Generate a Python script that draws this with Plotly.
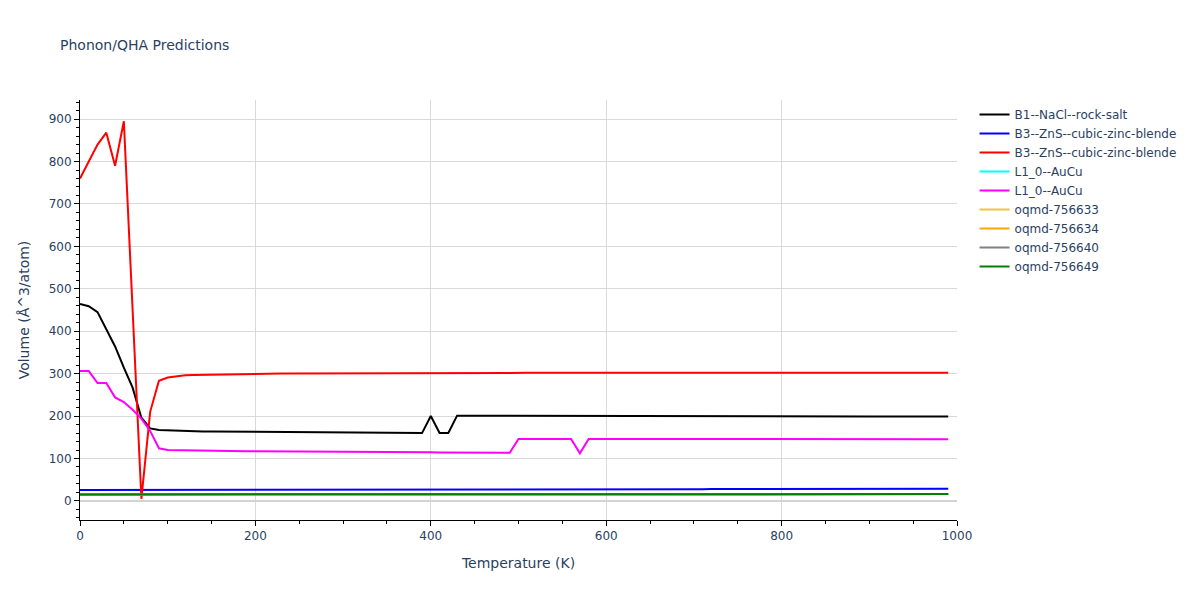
import plotly.graph_objects as go

temperature = list(range(0, 1000, 10))

b1_nacl = [464, 459, 445, 405, 364, 314, 267, 196, 171, 167,
           166, 165, 164.5, 164, 163.8, 163.6, 163.4, 163.2, 163, 162.8,
           162.6, 162.4, 162.2, 162, 161.8, 161.6, 161.4, 161.2, 161, 160.8,
           160.7, 160.6, 160.5, 160.4, 160.3, 160.2, 160.1, 160, 159.9, 159.8,
           200, 160, 160, 201, 200.9, 200.9, 200.8, 200.8, 200.7, 200.7,
           200.6, 200.6, 200.5, 200.5, 200.4, 200.4, 200.3, 200.3, 200.2, 200.2,
           200.1, 200.1, 200, 200, 200, 199.9, 199.9, 199.9, 199.8, 199.8,
           199.8, 199.7, 199.7, 199.7, 199.6, 199.6, 199.6, 199.5, 199.5, 199.5,
           199.4, 199.4, 199.4, 199.3, 199.3, 199.3, 199.3, 199.2, 199.2, 199.2,
           199.2, 199.1, 199.1, 199.1, 199.1, 199, 199, 199, 199, 199]

b3_zns_a = [26.0, 26.0, 26.0, 26.0, 26.1, 26.1, 26.1, 26.1, 26.2, 26.2,
            26.2, 26.2, 26.3, 26.3, 26.3, 26.3, 26.4, 26.4, 26.4, 26.4,
            26.5, 26.5, 26.5, 26.5, 26.6, 26.6, 26.6, 26.6, 26.7, 26.7,
            26.7, 26.7, 26.8, 26.8, 26.8, 26.8, 26.9, 26.9, 26.9, 26.9,
            27.0, 27.0, 27.0, 27.0, 27.1, 27.1, 27.1, 27.1, 27.2, 27.2,
            27.2, 27.2, 27.3, 27.3, 27.3, 27.3, 27.4, 27.4, 27.4, 27.4,
            27.5, 27.5, 27.5, 27.5, 27.6, 27.6, 27.6, 27.6, 27.7, 27.7,
            27.7, 27.7, 27.8, 27.8, 27.8, 27.8, 27.9, 27.9, 27.9, 27.9,
            28.0, 28.0, 28.0, 28.0, 28.1, 28.1, 28.1, 28.1, 28.2, 28.2,
            28.2, 28.2, 28.3, 28.3, 28.3, 28.3, 28.4, 28.4, 28.4, 28.4]

b3_zns_b = [760, 800, 840, 868, 790, 895, 450, 5, 210, 283,
            291, 294, 296, 297, 297.5, 298, 298.5, 299, 299.3, 299.6,
            300, 300.1, 300.2, 300.3, 300.4, 300.5, 300.6, 300.7, 300.8, 300.9,
            301, 301, 301.1, 301.1, 301.2, 301.2, 301.3, 301.3, 301.4, 301.4,
            301.5, 301.5, 301.5, 301.6, 301.6, 301.6, 301.7, 301.7, 301.7, 301.8,
            301.8, 301.8, 301.8, 301.9, 301.9, 301.9, 301.9, 302, 302, 302,
            302, 302, 302, 302, 302, 302, 302, 302, 302, 302,
            302.1, 302.1, 302.1, 302.1, 302.1, 302.1, 302.1, 302.1, 302.1, 302.1,
            302.2, 302.2, 302.2, 302.2, 302.2, 302.2, 302.2, 302.2, 302.2, 302.2,
            302.3, 302.3, 302.3, 302.3, 302.3, 302.3, 302.3, 302.3, 302.3, 302.3]

l10_aucu_b = [306, 306, 278, 278, 244, 233, 215, 194, 165, 124,
              120, 119.5, 119, 118.5, 118.2, 118, 117.8, 117.6, 117.4, 117.2,
              117, 116.8, 116.6, 116.4, 116.2, 116, 115.9, 115.8, 115.7, 115.6,
              115.5, 115.4, 115.3, 115.2, 115.1, 115, 114.9, 114.8, 114.7, 114.6,
              114.5, 114.4, 114.3, 114.2, 114.1, 114, 113.9, 113.8, 113.7, 113.6,
              146, 146, 146, 146, 146, 146, 146, 112, 146, 146,
              146, 146, 146, 146, 146, 145.9, 145.9, 145.9, 145.9, 145.9,
              145.8, 145.8, 145.8, 145.8, 145.8, 145.7, 145.7, 145.7, 145.7, 145.7,
              145.6, 145.6, 145.6, 145.6, 145.6, 145.5, 145.5, 145.5, 145.5, 145.5,
              145.4, 145.4, 145.4, 145.4, 145.4, 145.3, 145.3, 145.3, 145.3, 145.3]

oqmd_base = [15.3, 15.3, 15.3, 15.3, 15.3, 15.3, 15.3, 15.3, 15.4, 15.4,
             15.4, 15.4, 15.4, 15.4, 15.4, 15.4, 15.4, 15.4, 15.5, 15.5,
             15.5, 15.5, 15.5, 15.5, 15.5, 15.5, 15.5, 15.5, 15.5, 15.5,
             15.6, 15.6, 15.6, 15.6, 15.6, 15.6, 15.6, 15.6, 15.6, 15.6,
             15.6, 15.6, 15.6, 15.6, 15.7, 15.7, 15.7, 15.7, 15.7, 15.7,
             15.7, 15.7, 15.7, 15.7, 15.7, 15.7, 15.8, 15.8, 15.8, 15.8,
             15.8, 15.8, 15.8, 15.8, 15.8, 15.8, 15.8, 15.8, 15.8, 15.9,
             15.9, 15.9, 15.9, 15.9, 15.9, 15.9, 15.9, 15.9, 15.9, 15.9,
             15.9, 16.0, 16.0, 16.0, 16.0, 16.0, 16.0, 16.0, 16.0, 16.0,
             16.0, 16.0, 16.0, 16.0, 16.1, 16.1, 16.1, 16.1, 16.1, 16.1]

l10_aucu_a = oqmd_base
oqmd_756633 = oqmd_base
oqmd_756634 = oqmd_base
oqmd_756640 = oqmd_base
oqmd_756649 = oqmd_base

series = [
    ("B1--NaCl--rock-salt", b1_nacl, "black"),
    ("B3--ZnS--cubic-zinc-blende", b3_zns_a, "blue"),
    ("B3--ZnS--cubic-zinc-blende", b3_zns_b, "red"),
    ("L1_0--AuCu", l10_aucu_a, "cyan"),
    ("L1_0--AuCu", l10_aucu_b, "magenta"),
    ("oqmd-756633", oqmd_756633, "#f0c33c"),
    ("oqmd-756634", oqmd_756634, "orange"),
    ("oqmd-756640", oqmd_756640, "gray"),
    ("oqmd-756649", oqmd_756649, "green"),
]

fig = go.Figure()
for name, vals, color in series:
    fig.add_trace(go.Scatter(x=temperature, y=vals, mode="lines", name=name,
                             line=dict(color=color, width=2)))

axis_common = dict(showline=True, linecolor="black", linewidth=1,
                   ticks="outside", tickcolor="black", ticklen=5,
                   showgrid=True, gridcolor="#d9d9d9", zeroline=True,
                   zerolinecolor="#d3d3d3", zerolinewidth=2)

fig.update_layout(
    template="plotly_white",
    width=1200, height=600,
    margin=dict(l=80, r=243, t=100, b=80),
    font=dict(family="DejaVu Sans, Verdana, sans-serif"),
    title=dict(text="Phonon/QHA Predictions", font=dict(size=14)),
    xaxis=dict(title="Temperature (K)", range=[0, 1000], dtick=200,
               minor=dict(dtick=50, ticks="outside", ticklen=3, tickcolor="black", showgrid=False),
               **axis_common),
    yaxis=dict(title="Volume (Å^3/atom)", range=[-45, 945], dtick=100,
               minor=dict(dtick=20, ticks="outside", ticklen=3, tickcolor="black", showgrid=False),
               **axis_common),
    plot_bgcolor="white",
    paper_bgcolor="white",
)

fig.write_html("out.html", config={"displayModeBar": False},
               post_script="document.body.style.margin='0px';")
